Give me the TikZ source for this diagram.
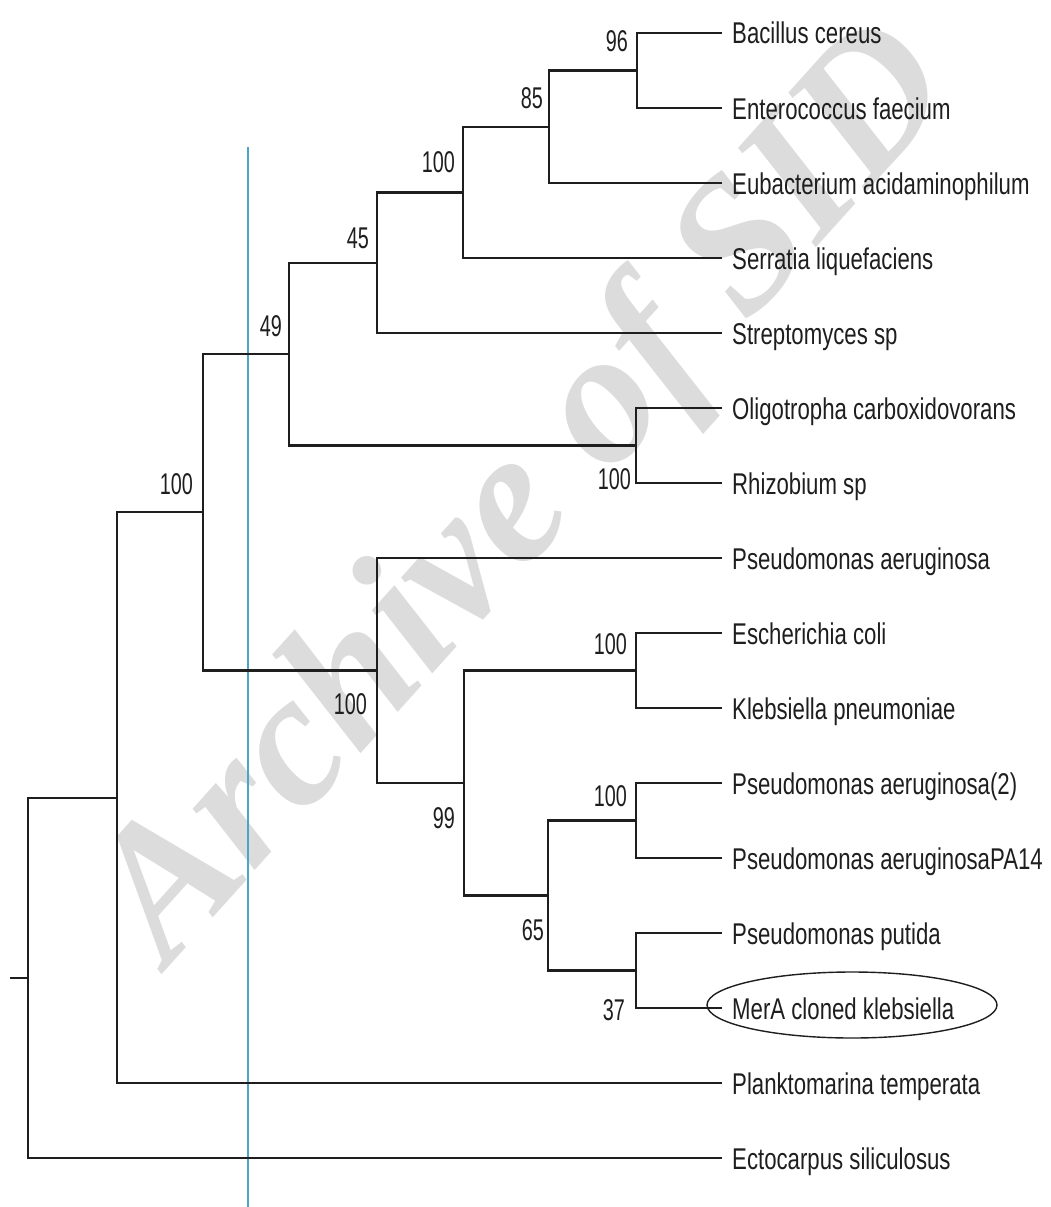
\documentclass[tikz,border=0pt]{standalone}
\usepackage{fontspec}
\usepackage{tikz}
\usetikzlibrary{positioning}
\newfontfamily\leaffont{Liberation Sans}[FakeStretch=0.74]
\newfontfamily\bootfont{Liberation Sans}[FakeStretch=0.66]
\newfontfamily\wmfont{Liberation Serif}
\definecolor{rama}{HTML}{1E1E1E}
\definecolor{escala}{HTML}{4AA6C4}
\definecolor{marca}{HTML}{DCDCDC}

\begin{document}
\begin{tikzpicture}[x=1pt,y=-1pt,
  leaf/.style={anchor=west,inner xsep=10pt,inner ysep=0pt,text height=22pt,text depth=0pt,
    font=\leaffont\fontsize{30}{34}\selectfont,text=rama},
  boot/.style={anchor=east,inner sep=0pt,text height=22pt,text depth=0pt,
    font=\bootfont\fontsize{30}{34}\selectfont,text=rama},
  br/.style={draw=rama,line width=2.2pt}]
\useasboundingbox (0,0) rectangle (1051,1207);
% watermark
\node[anchor=base west,rotate=48,inner sep=0pt,text=marca,
  font=\wmfont\bfseries\itshape\fontsize{190}{190}\selectfont] (wm) at (168,968) {Archive of SID};
% scale line
\coordinate (s1) at (248,147); \coordinate (s2) at (248,1207);
\draw[escala,line width=1.4pt] (s1) -- (s2);
% leaves
\node[leaf] (bac) at (722,33) {Bacillus cereus};
\node[leaf] (ent) at (722,108) {Enterococcus faecium};
\node[leaf] (eub) at (722,183) {Eubacterium acidaminophilum};
\node[leaf] (ser) at (722,258) {Serratia liquefaciens};
\node[leaf] (str) at (722,333) {Streptomyces sp};
\node[leaf] (oli) at (722,408) {Oligotropha carboxidovorans};
\node[leaf] (rhi) at (722,483) {Rhizobium sp};
\node[leaf] (pae) at (722,558) {Pseudomonas aeruginosa};
\node[leaf] (eco) at (722,633) {Escherichia coli};
\node[leaf] (kle) at (722,708) {Klebsiella pneumoniae};
\node[leaf] (pa2) at (722,783) {Pseudomonas aeruginosa(2)};
\node[leaf] (pa14) at (722,858) {Pseudomonas aeruginosaPA14};
\node[leaf] (put) at (722,933) {Pseudomonas putida};
\node[leaf] (mera) at (722,1008) {MerA cloned klebsiella};
\node[leaf] (pla) at (722,1083) {Planktomarina temperata};
\node[leaf] (ect) at (722,1158) {Ectocarpus siliculosus};
% internal nodes
\coordinate (n96) at (637,70.5);
\coordinate (n85) at (549,126.8);
\coordinate (n100a) at (463,192.4);
\coordinate (n45) at (377,262.7);
\coordinate (nor) at (636,445.5);
\coordinate (n49) at (289,354.1);
\coordinate (npe) at (636,670.5);
\coordinate (npp) at (636,820.5);
\coordinate (npm) at (636,970.5);
\coordinate (n65) at (548,895.5);
\coordinate (n99) at (464,783);
\coordinate (n100c) at (377,670.5);
\coordinate (n100b) at (203,512.3);
\coordinate (npl) at (117,797.7);
\coordinate (root) at (28,977.8);
\coordinate (stub) at (10,977.8);
% branches
\draw[br] (n96) |- (bac.west); \draw[br] (n96) |- (ent.west);
\draw[br] (n85) |- (n96); \draw[br] (n85) |- (eub.west);
\draw[br] (n100a) |- (n85); \draw[br] (n100a) |- (ser.west);
\draw[br] (n45) |- (n100a); \draw[br] (n45) |- (str.west);
\draw[br] (nor) |- (oli.west); \draw[br] (nor) |- (rhi.west);
\draw[br] (n49) |- (n45); \draw[br] (n49) |- (nor);
\draw[br] (npe) |- (eco.west); \draw[br] (npe) |- (kle.west);
\draw[br] (npp) |- (pa2.west); \draw[br] (npp) |- (pa14.west);
\draw[br] (npm) |- (put.west); \draw[br] (npm) |- (mera.west);
\draw[br] (n65) |- (npp); \draw[br] (n65) |- (npm);
\draw[br] (n99) |- (npe); \draw[br] (n99) |- (n65);
\draw[br] (n100c) |- (pae.west); \draw[br] (n100c) |- (n99);
\draw[br] (n100b) |- (n49); \draw[br] (n100b) |- (n100c);
\draw[br] (npl) |- (n100b); \draw[br] (npl) |- (pla.west);
\draw[br] (root) |- (npl); \draw[br] (root) |- (ect.west);
\draw[br] (stub) -- (root);
% bootstrap values
\node[boot] (b96) at (628,41) {96};
\node[boot] (b85) at (543,97) {85};
\node[boot] (b100a) at (455,161) {100};
\node[boot] (b45) at (369,237) {45};
\node[boot] (b49) at (282,325) {49};
\node[boot] (b100b) at (193,483) {100};
\node[boot] (brhi) at (631,478) {100};
\node[boot] (b100c) at (367,703) {100};
\node[boot] (beco) at (627,643) {100};
\node[boot] (b99) at (455,817) {99};
\node[boot] (bpa2) at (627,795) {100};
\node[boot] (b65) at (544,929) {65};
\node[boot] (b37) at (625,1009) {37};
% highlight
\draw[rama,line width=1.4pt] (852,1005) ellipse [x radius=145,y radius=33];
\end{tikzpicture}
\end{document}
